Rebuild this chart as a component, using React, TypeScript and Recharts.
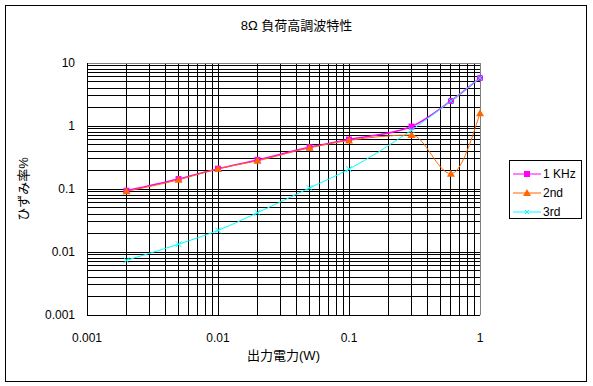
import {
  CartesianGrid,
  Legend,
  Line,
  LineChart,
  ReferenceLine,
  XAxis,
  YAxis
} from "recharts";

const power = [0.002, 0.005, 0.01, 0.02, 0.05, 0.1, 0.3, 0.6, 1];
const thd1k = [0.094, 0.144, 0.21, 0.29, 0.46, 0.61, 0.98, 2.5, 5.8];
const second = [0.092, 0.14, 0.21, 0.28, 0.45, 0.59, 0.72, 0.175, 1.6];
const third = [0.0074, 0.0133, 0.022, 0.042, 0.104, 0.207, 0.86, 2.5, 5.8];

const xTicks = [
  0.001, 0.002, 0.003, 0.004, 0.005, 0.006, 0.007, 0.008, 0.009,
  0.01, 0.02, 0.03, 0.04, 0.05, 0.06, 0.07, 0.08, 0.09,
  0.1, 0.2, 0.3, 0.4, 0.5, 0.6, 0.7, 0.8, 0.9, 1
];
const yTicks = [
  0.001, 0.002, 0.003, 0.004, 0.005, 0.006, 0.007, 0.008, 0.009,
  0.01, 0.02, 0.03, 0.04, 0.05, 0.06, 0.07, 0.08, 0.09,
  0.1, 0.2, 0.3, 0.4, 0.5, 0.6, 0.7, 0.8, 0.9,
  1, 2, 3, 4, 5, 6, 7, 8, 9, 10
];
const decadeLabels: Record<string, string> = {
  "0.001": "0.001",
  "0.01": "0.01",
  "0.1": "0.1",
  "1": "1",
  "10": "10"
};

const data = power.map((p, i) => ({
  p,
  k1: thd1k[i],
  h2: second[i],
  h3: third[i]
}));

const MAGENTA = "#ff00ff";
const ORANGE = "#ff6600";
const CYAN = "#00ffff";
const FONT = "'Liberation Sans', 'Noto Sans CJK JP', sans-serif";

const fmt = (v: number) => decadeLabels[String(v)] ?? "";

function Square(props: any) {
  const { cx, cy, index } = props;
  return <rect key={`s${index}`} x={cx - 3} y={cy - 3} width={6} height={6} fill={MAGENTA} />;
}

function Triangle(props: any) {
  const { cx, cy, index } = props;
  return (
    <path key={`t${index}`} d={`M${cx},${cy - 4}L${cx + 4},${cy + 3}L${cx - 4},${cy + 3}Z`} fill={ORANGE} />
  );
}

function Cross(props: any) {
  const { cx, cy, index } = props;
  return (
    <path
      key={`c${index}`}
      d={`M${cx - 3},${cy - 3}L${cx + 3},${cy + 3}M${cx - 3},${cy + 3}L${cx + 3},${cy - 3}`}
      stroke={CYAN}
      strokeWidth={1}
    />
  );
}

const legendItems = [
  { name: "1 KHz", color: MAGENTA, mark: "square" },
  { name: "2nd", color: ORANGE, mark: "triangle" },
  { name: "3rd", color: CYAN, mark: "cross" }
];

function LegendBox() {
  return (
    <div
      style={{
        border: "1px solid #000",
        background: "#fff",
        width: 73,
        height: 59,
        boxSizing: "border-box",
        padding: "3px 0 0 3px",
        fontFamily: FONT,
        fontSize: 12
      }}
    >
      {legendItems.map((it) => (
        <div key={it.name} style={{ display: "flex", alignItems: "center", height: 19 }}>
          <svg width={30} height={10}>
            <line x1={0} y1={5} x2={28} y2={5} stroke={it.color} />
            {it.mark === "square" && <rect x={11} y={2} width={6} height={6} fill={it.color} />}
            {it.mark === "triangle" && <path d="M14,1L18,8L10,8Z" fill={it.color} />}
            {it.mark === "cross" && <path d="M12,3L16,7M12,7L16,3" stroke={it.color} />}
          </svg>
          <span>{it.name}</span>
        </div>
      ))}
    </div>
  );
}

export default function App() {
  return (
    <div style={{ position: "absolute", left: 0, top: 0, width: 593, height: 386, background: "#fff" }}>
      <style>{`
        .recharts-cartesian-grid line,
        .recharts-cartesian-axis-line,
        .recharts-reference-line line { shape-rendering: crispEdges; }
      `}</style>
      <div
        style={{
          position: "absolute",
          left: 5,
          top: 5,
          width: 582,
          height: 377,
          border: "1px solid #000",
          boxSizing: "border-box"
        }}
      />
      <div
        style={{
          position: "absolute",
          left: 0,
          width: 593,
          top: 15,
          textAlign: "center",
          fontFamily: FONT,
          fontSize: 13
        }}
      >
        8Ω 負荷高調波特性
      </div>
      <LineChart
        width={593}
        height={386}
        data={data}
        margin={{ top: 63, right: 113, bottom: 41, left: 0 }}
        style={{ position: "absolute", left: 0, top: 0, fontFamily: FONT }}
      >
        <CartesianGrid stroke="#000" strokeWidth={1} />
        <XAxis
          dataKey="p"
          type="number"
          scale="log"
          domain={[0.001, 1]}
          ticks={xTicks}
          tickFormatter={fmt}
          tickLine={false}
          tickMargin={12}
          interval={0}
          height={30}
          axisLine={{ stroke: "#000" }}
          tick={{ fill: "#000", fontSize: 12 }}
          label={{
            content: ({ viewBox }: any) => (
              <text
                x={viewBox.x + viewBox.width / 2}
                y={357}
                textAnchor="middle"
                dominantBaseline="middle"
                fontSize={13}
                fill="#000"
              >
                出力電力(W)
              </text>
            )
          }}
        />
        <YAxis
          type="number"
          scale="log"
          domain={[0.001, 10]}
          ticks={yTicks}
          tickFormatter={fmt}
          tickLine={false}
          tickMargin={6}
          interval={0}
          width={87}
          axisLine={{ stroke: "#000" }}
          tick={{ fill: "#000", fontSize: 12 }}
          label={{
            content: ({ viewBox }: any) => {
              const cx = 25;
              const cy = viewBox.y + viewBox.height / 2;
              return (
                <text
                  x={cx}
                  y={cy}
                  transform={`rotate(-90 ${cx} ${cy})`}
                  textAnchor="middle"
                  dominantBaseline="middle"
                  fontSize={13}
                  fill="#000"
                >
                  ひずみ率%
                </text>
              );
            }
          }}
        />
        <ReferenceLine y={10} stroke="#808080" />
        <ReferenceLine x={1} stroke="#808080" />
        <Line
          dataKey="k1"
          name="1 KHz"
          type="monotone"
          stroke={MAGENTA}
          strokeWidth={1.5}
          dot={Square}
          activeDot={false}
          isAnimationActive={false}
        />
        <Line
          dataKey="h3"
          name="3rd"
          type="monotone"
          stroke={CYAN}
          strokeWidth={1}
          dot={Cross}
          activeDot={false}
          isAnimationActive={false}
        />
        <Line
          dataKey="h2"
          name="2nd"
          type="monotone"
          stroke={ORANGE}
          strokeWidth={1}
          dot={Triangle}
          activeDot={false}
          isAnimationActive={false}
        />
        <Legend
          layout="vertical"
          align="center"
          verticalAlign="middle"
          content={() => <LegendBox />}
          wrapperStyle={{ position: "absolute", left: 509, top: 160, width: 73, height: 59 }}
        />
      </LineChart>
    </div>
  );
}
